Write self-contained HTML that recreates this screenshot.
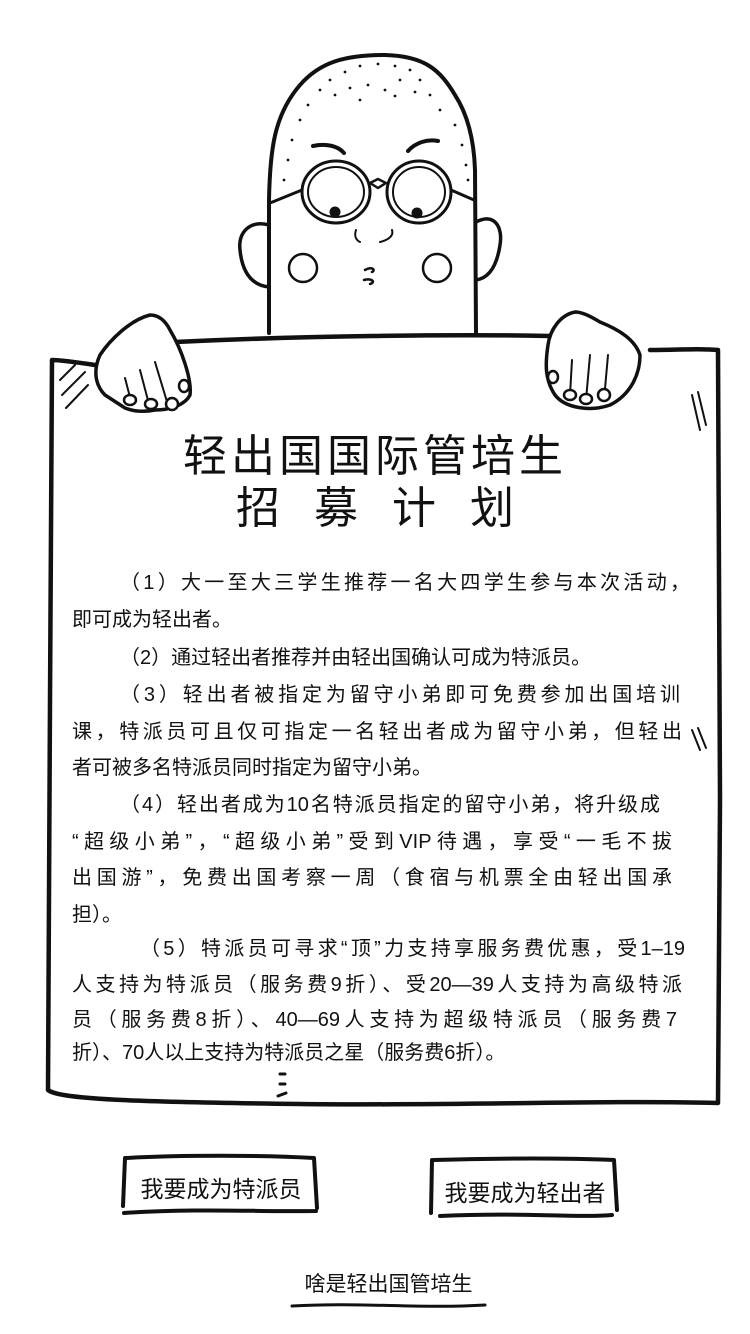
<!DOCTYPE html>
<html><head><meta charset="utf-8">
<style>
html,body{margin:0;padding:0;background:#fff;}
body{width:750px;height:1334px;position:relative;overflow:hidden;font-family:"Liberation Sans","Noto Sans CJK SC","WenQuanYi Zen Hei",sans-serif;color:#111;}
svg{position:absolute;left:0;top:0;}
.ln{position:absolute;font-size:20px;line-height:24px;white-space:nowrap;}
.j{text-align:justify;text-align-last:justify;white-space:normal;}
.title{position:absolute;left:0;width:750px;text-align:center;font-size:44px;line-height:50px;letter-spacing:4px;}
.btn{position:absolute;font-size:23px;text-align:center;}
</style></head>
<body>
<svg width="750" height="1334" fill="none" stroke="#111" stroke-linecap="round" stroke-linejoin="round">
 <g stroke-width="4">
  <path d="M269 333 L269 200 C270 150 274 115 300 85 C320 62 345 55 385 55 C425 56 440 70 455 95 C468 115 474 140 475 170 L476 333"/>
  <path d="M269 225 C250 220 238 232 240 250 C242 270 250 285 269 287" stroke-width="3.5"/>
  <path d="M476 222 C495 212 503 228 500 245 C497 265 490 278 476 280" stroke-width="3.5"/>
 </g>
 <g fill="#111" stroke="none">
  <circle cx="330" cy="80" r="1.4"/><circle cx="345" cy="72" r="1.4"/><circle cx="360" cy="66" r="1.4"/><circle cx="378" cy="64" r="1.4"/><circle cx="395" cy="66" r="1.4"/><circle cx="410" cy="70" r="1.4"/><circle cx="420" cy="80" r="1.4"/><circle cx="400" cy="80" r="1.4"/><circle cx="385" cy="90" r="1.4"/><circle cx="368" cy="85" r="1.4"/><circle cx="350" cy="88" r="1.4"/><circle cx="335" cy="95" r="1.4"/><circle cx="320" cy="90" r="1.4"/><circle cx="308" cy="105" r="1.4"/><circle cx="300" cy="120" r="1.4"/><circle cx="292" cy="140" r="1.4"/><circle cx="288" cy="160" r="1.4"/><circle cx="284" cy="180" r="1.4"/><circle cx="430" cy="95" r="1.4"/><circle cx="440" cy="110" r="1.4"/><circle cx="455" cy="125" r="1.4"/><circle cx="462" cy="145" r="1.4"/><circle cx="466" cy="165" r="1.4"/><circle cx="468" cy="180" r="1.4"/><circle cx="415" cy="92" r="1.4"/><circle cx="395" cy="96" r="1.4"/><circle cx="360" cy="100" r="1.4"/>
 </g>
 <g stroke-width="3">
  <path d="M313 146 C326 143 338 146 344 153" stroke-width="4"/>
  <path d="M408 151 C416 142 428 139 438 141" stroke-width="4"/>
  <ellipse cx="336" cy="192" rx="34" ry="31"/>
  <ellipse cx="336" cy="192" rx="28" ry="25" stroke-width="2"/>
  <ellipse cx="419" cy="192" rx="32" ry="31"/>
  <ellipse cx="419" cy="192" rx="26" ry="25" stroke-width="2"/>
  <path d="M370 183 L378 179 L386 183 L378 188 Z" stroke-width="2.5"/>
  <path d="M302 190 L270 203"/><path d="M451 190 L474 200"/>
  <circle cx="335" cy="212" r="4" fill="#111"/><circle cx="417" cy="213" r="4" fill="#111"/>
  <path d="M356 230 C354 236 356 240 360 242" stroke-width="2"/><path d="M380 242 C388 240 394 236 392 230" stroke-width="2"/>
  <circle cx="303" cy="268" r="14" stroke-width="2.5"/><circle cx="437" cy="268" r="14" stroke-width="2.5"/>
  <path d="M365 270 C372 266 376 270 372 272 M364 280 C372 278 376 282 370 284" stroke-width="2.5"/>
 </g>
 <g stroke-width="4.5">
  <path d="M175 342 C300 336 450 334 550 336"/>
  <path d="M95 365 C75 362 60 360 52 360 L50 700 L48 1090 C60 1100 150 1102 300 1104 C450 1106 600 1100 718 1103 L720 800 L718 350 C700 348 680 350 650 350"/>
  <path d="M60 380 L75 365 M62 395 L85 372 M66 408 L88 385" stroke-width="2"/>
  <path d="M692 395 L700 430 M698 392 L706 425" stroke-width="2"/>
  <path d="M692 730 L700 750 M698 728 L706 748" stroke-width="2"/>
  <path d="M280 1074 L285 1074 M280 1084 L285 1084 M278 1096 L286 1093" stroke-width="3"/>
 </g>
 <g stroke-width="3.5" fill="#fff">
  <path d="M150 315 C130 320 110 340 100 355 C93 370 95 385 105 395 L125 408 C135 412 145 412 155 410 C170 410 185 405 190 395 C192 380 182 350 170 330 C165 320 158 315 150 315 Z"/>
  <path d="M125 378 L132 405 M140 370 L150 408 M155 362 L168 405" stroke-width="2"/>
  <ellipse cx="130" cy="400" rx="6" ry="5" stroke-width="2.5"/><ellipse cx="151" cy="404" rx="6" ry="5" stroke-width="2.5"/><ellipse cx="172" cy="404" rx="6" ry="6" stroke-width="2.5"/><ellipse cx="184" cy="386" rx="5" ry="6" stroke-width="2.5"/>
 </g>
 <g stroke-width="3.5" fill="#fff">
  <path d="M575 312 C560 315 550 330 548 345 C545 365 545 380 555 395 C565 408 590 412 610 405 C630 395 640 375 640 355 C635 340 620 330 600 322 C590 316 582 312 575 312 Z"/>
  <path d="M572 360 L570 395 M590 355 L586 400 M608 355 L604 400" stroke-width="2"/>
  <ellipse cx="553" cy="377" rx="5" ry="6" stroke-width="2.5"/><ellipse cx="570" cy="395" rx="6" ry="5" stroke-width="2.5"/><ellipse cx="586" cy="399" rx="6" ry="5" stroke-width="2.5"/><ellipse cx="604" cy="395" rx="6" ry="6" stroke-width="2.5"/>
 </g>
 <g stroke-width="4">
  <path d="M126 1158 C180 1155 260 1155 314 1158 L317 1208 M125 1158 L123 1206 M124 1213 C200 1208 260 1212 316 1211"/>
  <path d="M434 1160 C500 1158 570 1158 614 1160 L617 1210 M432 1160 L431 1213 M440 1216 C520 1212 580 1218 612 1215"/>
  <path d="M292 1306 C360 1302 420 1309 485 1305" stroke-width="3"/>
 </g>
</svg>

<div class="title" style="top:432px">轻出国国际管培生</div>
<div class="title" style="top:484px;letter-spacing:34px;text-indent:34px">招募计划</div>

<div>
<div class="ln j" style="left:120px;top:571px;width:570px">（1）大一至大三学生推荐一名大四学生参与本次活动，</div>
<div class="ln" style="left:72px;top:608px">即可成为轻出者。</div>
<div class="ln" style="left:120px;top:646px">（2）通过轻出者推荐并由轻出国确认可成为特派员。</div>
<div class="ln j" style="left:120px;top:683px;width:560px">（3）轻出者被指定为留守小弟即可免费参加出国培训</div>
<div class="ln j" style="left:72px;top:720px;width:610px">课，特派员可且仅可指定一名轻出者成为留守小弟，但轻出</div>
<div class="ln" style="left:72px;top:756px">者可被多名特派员同时指定为留守小弟。</div>
<div class="ln j" style="left:120px;top:793px;width:540px">（4）轻出者成为10名特派员指定的留守小弟，将升级成</div>
<div class="ln j" style="left:72px;top:830px;width:600px">“超级小弟”，“超级小弟”受到VIP待遇，享受“一毛不拔</div>
<div class="ln j" style="left:72px;top:866px;width:600px">出国游”，免费出国考察一周（食宿与机票全由轻出国承</div>
<div class="ln" style="left:72px;top:903px">担）。</div>
<div class="ln j" style="left:140px;top:937px;width:545px">（5）特派员可寻求“顶”力支持享服务费优惠，受1–19</div>
<div class="ln j" style="left:72px;top:973px;width:610px">人支持为特派员（服务费9折）、受20—39人支持为高级特派</div>
<div class="ln j" style="left:72px;top:1008px;width:605px">员（服务费8折）、40—69人支持为超级特派员（服务费7</div>
<div class="ln" style="left:72px;top:1041px">折）、70人以上支持为特派员之星（服务费6折）。</div>
</div>

<div class="btn" style="left:126px;top:1170px;width:190px">我要成为特派员</div>
<div class="btn" style="left:433px;top:1174px;width:184px">我要成为轻出者</div>
<div class="btn" style="left:292px;top:1268px;width:193px;font-size:21px">啥是轻出国管培生</div>
</body></html>
